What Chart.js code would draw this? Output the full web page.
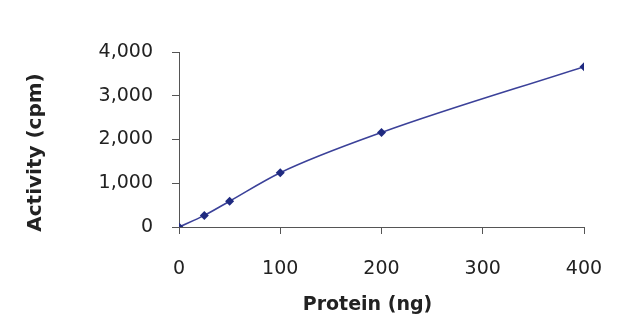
<!DOCTYPE html>
<html>
<head>
<meta charset="utf-8">
<title>Activity vs protein</title>
<script src="https://cdn.jsdelivr.net/npm/chart.js@4"></script>
<style>
  html, body { margin: 0; padding: 0; background: #fff; }
  #activityChart { display: block; }
</style>
</head>
<body>
<canvas id="activityChart" width="640" height="324"></canvas>
<script>
const proteinNg = [0, 25, 50, 100, 200, 400];
const activityCpm = [0, 265, 590, 1240, 2160, 3665];
const xTicks = [0, 100, 200, 300, 400];
const yTicks = [0, 1000, 2000, 3000, 4000];

const axisColor = '#555';
const labelColor = '#222';
const tickFont = { family: 'DejaVu Sans', size: 19 };

// axis titles sit a little off the plot centre, so they are drawn here
const axisTitles = {
  id: 'axisTitles',
  afterDraw(chart) {
    const { ctx, chartArea } = chart;
    ctx.save();
    ctx.fillStyle = labelColor;
    ctx.textAlign = 'center';
    ctx.textBaseline = 'middle';
    ctx.font = 'bold 19px "DejaVu Sans"';
    ctx.fillText('Protein (ng)', (chartArea.left + chartArea.right) / 2 - 14, 305);
    ctx.translate(36, (chartArea.top + chartArea.bottom) / 2 + 13);
    ctx.rotate(-Math.PI / 2);
    ctx.font = 'bold 20px "DejaVu Sans"';
    ctx.fillText('Activity (cpm)', 0, 0);
    ctx.restore();
  }
};

const chart = new Chart(document.getElementById('activityChart'), {
  type: 'line',
  data: {
    datasets: [{
      data: proteinNg.map((x, i) => ({ x, y: activityCpm[i] })),
      borderColor: '#3b4199',
      borderWidth: 1.6,
      backgroundColor: '#1f2a80',
      pointStyle: 'rectRot',
      pointRadius: 4.5,
      pointBorderWidth: 0,
      cubicInterpolationMode: 'monotone',
      fill: false
    }]
  },
  options: {
    responsive: false,
    animation: false,
    layout: { padding: { top: 52, right: 56, left: 0, bottom: 0 } },
    plugins: { legend: { display: false }, tooltip: { enabled: false } },
    scales: {
      x: {
        type: 'linear',
        min: 0,
        max: 400,
        afterBuildTicks: scale => { scale.ticks = xTicks.map(value => ({ value })); },
        afterFit: scale => { scale.height = 97; },
        grid: { drawOnChartArea: false, drawTicks: true, tickLength: 7, color: axisColor },
        border: { color: axisColor, width: 1 },
        ticks: { color: labelColor, font: tickFont, padding: 24, maxRotation: 0 }
      },
      y: {
        min: 0,
        max: 4000,
        afterBuildTicks: scale => { scale.ticks = yTicks.map(value => ({ value })); },
        afterFit: scale => { scale.width = 179; },
        grid: { drawOnChartArea: false, drawTicks: true, tickLength: 7, color: axisColor },
        border: { color: axisColor, width: 1 },
        ticks: {
          color: labelColor,
          font: tickFont,
          padding: 19,
          callback: value => value.toLocaleString('en-US')
        }
      }
    }
  },
  plugins: [axisTitles]
});
</script>
</body>
</html>
